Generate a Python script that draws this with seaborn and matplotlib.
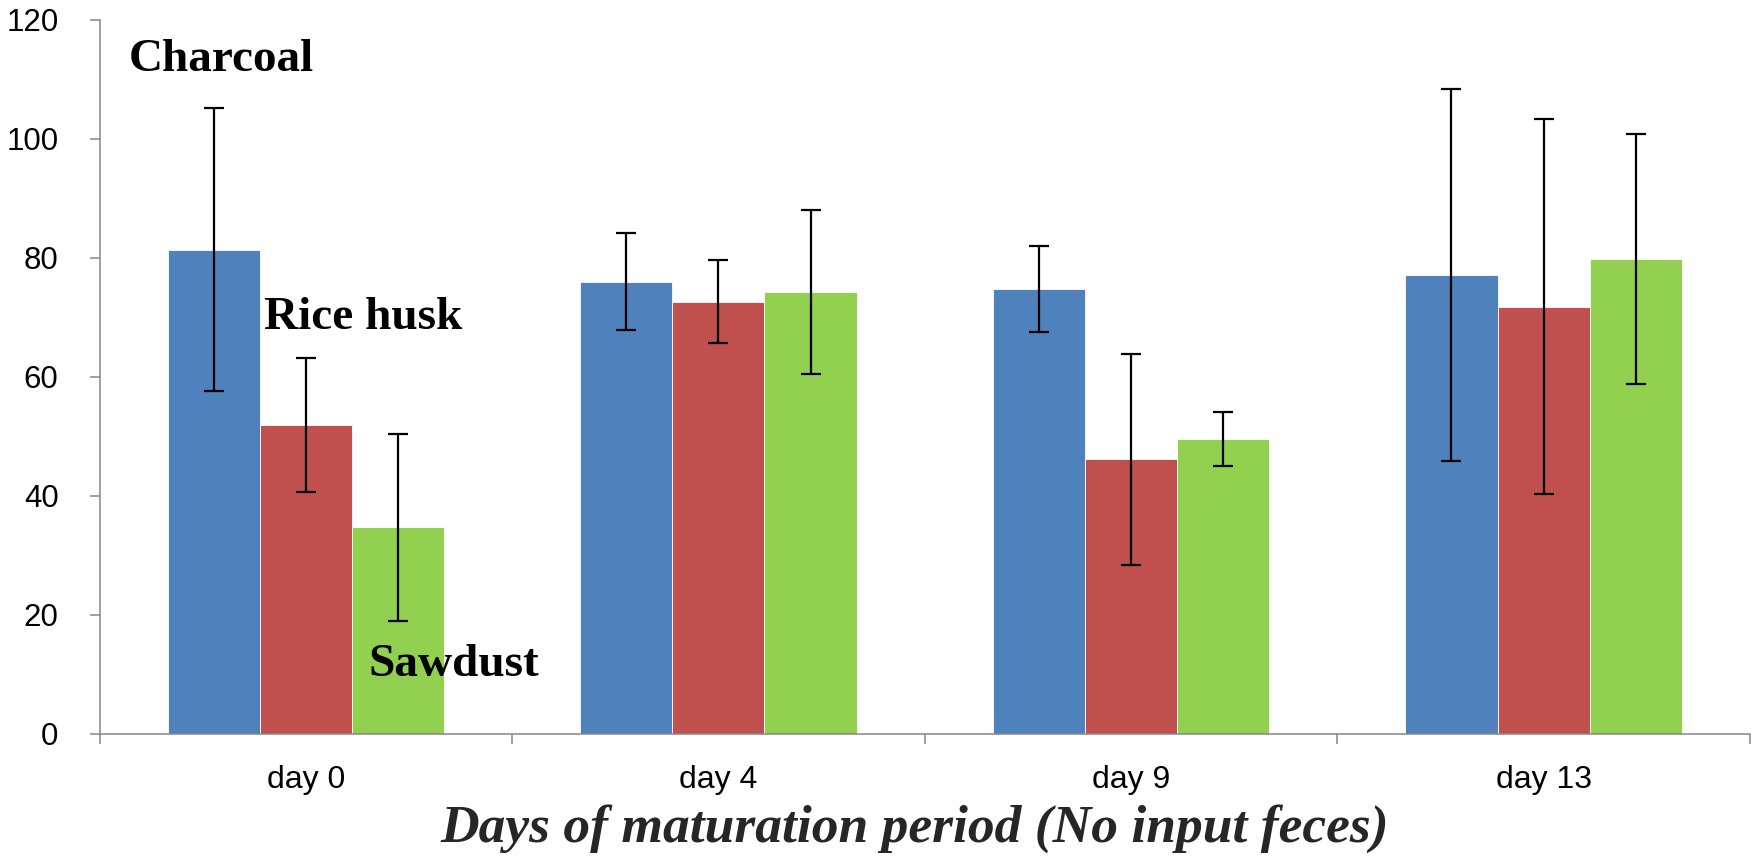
import numpy as np
import pandas as pd
import matplotlib
matplotlib.use("Agg")
import matplotlib.pyplot as plt
import seaborn as sns
from matplotlib.ticker import FixedLocator

# ---------------- data ----------------
days = ["day 0", "day 4", "day 9", "day 13"]
materials = ["Charcoal", "Rice husk", "Sawdust"]
charcoal = [81.4, 76.0, 74.8, 77.1]
rice_husk = [51.9, 72.6, 46.1, 71.8]
sawdust = [34.7, 74.3, 49.5, 79.8]
charcoal_err = [23.8, 8.2, 7.2, 31.3]
rice_husk_err = [11.3, 7.0, 17.8, 31.5]
sawdust_err = [15.7, 13.8, 4.5, 21.0]
y_ticks = [0, 20, 40, 60, 80, 100, 120]
x_label = "Days of maturation period (No input feces)"

colors = ["#4F81BD", "#C0504D", "#92D050"]

values = {"Charcoal": charcoal, "Rice husk": rice_husk, "Sawdust": sawdust}
errors = {"Charcoal": charcoal_err, "Rice husk": rice_husk_err, "Sawdust": sawdust_err}
df = pd.DataFrame(
    [(d, m, values[m][i]) for m in materials for i, d in enumerate(days)],
    columns=["day", "material", "value"],
)

sns.set_theme(style="white")
plt.rcParams["font.family"] = ["Liberation Sans", "DejaVu Sans"]

fig = plt.figure(figsize=(17.58, 8.65), dpi=100)
ax = fig.add_axes([0.0566, 0.152, 0.9388, 0.8249])

sns.barplot(
    data=df, x="day", y="value", hue="material", order=days, hue_order=materials,
    palette=colors, errorbar=None, width=0.67, gap=0, ax=ax,
    edgecolor="white", linewidth=0.6, saturation=1, legend=False,
)

# error bars from bar centres
for cont, m in zip(ax.containers, materials):
    xs = [p.get_x() + p.get_width() / 2 for p in cont.patches]
    ax.errorbar(xs, values[m], yerr=errors[m], fmt="none", ecolor="black",
                elinewidth=1.6, capsize=7.5, capthick=1.6, zorder=5)

ax.set_xlim(-0.5, len(days) - 0.5)
ax.set_ylim(0, 120)
ax.set_yticks(y_ticks)
ax.set_yticklabels([str(t) for t in y_ticks], fontsize=22.5)

ax.set_xticks(range(len(days)))
ax.set_xticklabels(days, fontsize=23)
ax.xaxis.set_minor_locator(FixedLocator(np.arange(-0.5, len(days), 1.0)))
ax.tick_params(axis="x", which="major", length=0, pad=23, colors="black")
ax.tick_params(axis="x", which="minor", length=7.5, width=1.1, color="#868686", direction="out", bottom=True)
ax.tick_params(axis="y", which="major", length=7.5, width=1.1, color="#868686", direction="out", left=True, pad=22, labelcolor="black")

for s in ["top", "right"]:
    ax.spines[s].set_visible(False)
for s in ["left", "bottom"]:
    ax.spines[s].set_color("#868686")
    ax.spines[s].set_linewidth(1.1)

ax.set_ylabel("")
ax.set_xlabel(x_label, fontsize=38.5, fontweight="bold", fontstyle="italic",
              family=["Liberation Serif", "DejaVu Serif"])
ax.xaxis.set_label_coords(0.494, -0.099)

# series labels
label_pos = {"Charcoal": (-0.430, 111.5), "Rice husk": (-0.101, 68.1), "Sawdust": (0.152, 9.7)}
for m in materials:
    x, y = label_pos[m]
    ax.text(x, y, m, fontsize=34, fontweight="bold", family=["Liberation Serif", "DejaVu Serif"],
            ha="left", va="baseline", color="black", zorder=6)

fig.savefig("out.png", dpi=100, facecolor="white")
